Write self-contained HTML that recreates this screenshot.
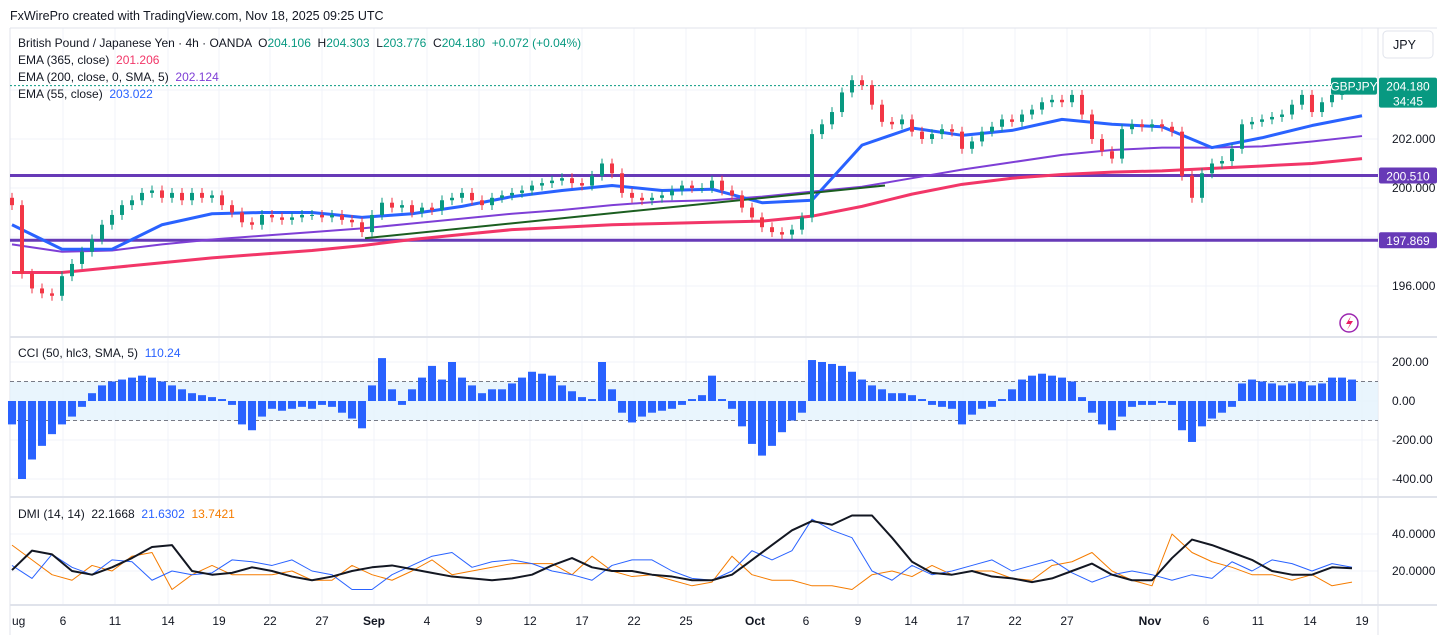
<!DOCTYPE html>
<html><head><meta charset="utf-8">
<style>
html,body{margin:0;padding:0;background:#fff;}
body{width:1437px;height:635px;overflow:hidden;font-family:"Liberation Sans",sans-serif;}
svg text{font-family:"Liberation Sans",sans-serif;white-space:pre;}
</style></head>
<body>
<svg id="chart" width="1437" height="635" viewBox="0 0 1437 635" xmlns="http://www.w3.org/2000/svg">
<rect width="1437" height="635" fill="#fff"/>
<g id="grid"></g>
<g id="main"></g>
<g id="cci"></g>
<g id="dmi"></g>
<g id="axes"></g>
<text x="10" y="20" font-size="12.5" fill="#131722">FxWirePro created with TradingView.com, Nov 18, 2025 09:25 UTC</text>
<g font-size="12">
<text x="18" y="47" fill="#131722">British Pound / Japanese Yen · 4h · OANDA  O<tspan fill="#089981">204.106</tspan>  H<tspan fill="#089981">204.303</tspan>  L<tspan fill="#089981">203.776</tspan>  C<tspan fill="#089981">204.180</tspan>  <tspan fill="#089981">+0.072 (+0.04%)</tspan></text>
<text x="18" y="64" fill="#131722">EMA (365, close)  <tspan fill="#f23668">201.206</tspan></text>
<text x="18" y="81" fill="#131722">EMA (200, close, 0, SMA, 5)  <tspan fill="#7e3fd6">202.124</tspan></text>
<text x="18" y="98" fill="#131722">EMA (55, close)  <tspan fill="#2962ff">203.022</tspan></text>
</g>
<text x="18" y="357" font-size="12" fill="#131722">CCI (50, hlc3, SMA, 5)  <tspan fill="#2962ff">110.24</tspan></text>
<text x="18" y="518" font-size="12" fill="#131722">DMI (14, 14)  22.1668  <tspan fill="#2962ff">21.6302</tspan>  <tspan fill="#f57c00">13.7421</tspan></text>
<g>
<rect x="1383" y="31" width="50" height="27" rx="4" fill="#fff" stroke="#e0e3eb"/>
<text x="1393" y="49" font-size="12.5" fill="#131722">JPY</text>
</g>
<g>
<circle cx="1349" cy="323" r="9" fill="none" stroke="#9c27b0" stroke-width="1.5"/>
<path d="M1351 316 L1346 324 L1350 324 L1347 330 L1353 321 L1349 321 Z" fill="#e91e63"/>
</g>
</svg>
<script>
// ---- data ----
const closes = [199.3,196.5,195.9,195.7,195.6,196.4,196.9,197.4,197.9,198.5,
198.9,199.3,199.5,199.8,199.9,199.6,199.8,199.5,199.8,199.6,
199.7,199.3,199.0,198.6,198.5,198.9,198.8,198.7,198.8,198.9,
198.9,198.8,198.9,198.7,198.6,198.2,198.9,199.4,199.2,199.3,
199.0,199.2,199.1,199.5,199.6,199.8,199.5,199.3,199.6,199.7,
199.8,199.9,200.1,200.2,200.3,200.4,200.2,200.1,200.5,201.0,
200.6,199.8,199.6,199.5,199.6,199.7,199.9,200.1,200.0,200.0,
200.3,199.9,199.7,199.2,198.8,198.4,198.2,198.1,198.3,198.8,
202.2,202.6,203.1,203.9,204.4,204.2,203.4,202.7,202.6,202.8,
202.3,202.0,202.2,202.4,202.3,201.6,201.9,202.3,202.5,202.8,
202.7,203.0,203.2,203.5,203.6,203.5,203.8,203.0,202.0,201.5,
201.2,202.4,202.6,202.5,202.6,202.5,202.3,200.5,199.6,200.6,
201.0,201.1,201.6,202.6,202.7,202.8,202.9,203.0,203.4,203.8,
203.1,203.5,203.8,204.1,204.18];
const ema55 = [198.5,197.5,197.5,198.5,198.95,199.0,199.0,198.8,198.95,199.25,199.65,199.9,200.1,199.9,199.95,199.4,199.5,201.75,202.45,202.15,202.35,202.8,202.6,202.5,201.65,202.05,202.55,202.95];
const ema200 = [197.7,197.4,197.45,197.7,197.9,198.05,198.2,198.35,198.55,198.75,198.95,199.1,199.3,199.45,199.5,199.65,199.85,200.05,200.4,200.75,201.05,201.35,201.55,201.65,201.65,201.7,201.9,202.12];
const ema365 = [196.55,196.55,196.75,196.95,197.15,197.3,197.45,197.65,197.9,198.1,198.3,198.4,198.5,198.55,198.6,198.65,198.85,199.25,199.75,200.15,200.4,200.55,200.65,200.7,200.8,200.9,201.0,201.2];
const levels = [200.510, 197.869];
const cciVals = [-120,-400,-300,-230,-170,-120,-80,-30,40,80,
100,110,120,130,120,100,80,60,40,30,
20,10,-20,-120,-150,-80,-40,-50,-40,-30,
-40,-20,-30,-60,-90,-140,80,220,60,-20,
60,120,180,110,200,120,80,40,60,60,
90,120,150,140,130,80,50,20,10,200,
60,-60,-110,-80,-60,-50,-40,-20,10,30,
130,10,-40,-130,-220,-280,-230,-160,-100,-60,
210,200,190,180,150,110,80,60,40,40,
30,10,-20,-30,-40,-120,-70,-40,-30,10,
60,110,130,140,130,120,100,20,-60,-120,
-150,-80,-30,-20,-20,-10,-20,-150,-210,-130,
-90,-60,-30,90,110,100,90,80,90,100,
80,90,120,120,110];
const adx = [20.5,31,29,20,18,22,27,33,34,20,18,19,22,20,17,15,17,20,22,23,21,19,17,16,15,16,18,23,27,22,20,20,18,17,15,15,18,26,34,42,47,45,50,50,38,25,19,18,20,17,16,14,16,20,24,18,15,15,27,37,34,30,26,20,18,18,22,21.5];
const diPlus = [23,16,29,22,18,26,25,15,20,18,19,26,25,23,26,20,18,10,10,18,23,28,30,22,25,26,24,20,18,15,23,26,26,20,16,15,20,31,26,31,48,42,38,20,15,23,18,20,23,26,20,23,26,19,14,18,20,18,15,18,16,25,20,26,24,20,24,22];
const diMinus = [34,26,18,15,23,20,28,30,10,18,23,18,18,18,20,15,15,23,18,15,20,26,18,20,22,24,24,24,18,28,20,17,18,15,12,14,28,18,15,15,12,12,10,18,20,17,23,18,20,20,16,15,23,25,30,20,15,12,40,30,25,22,18,18,15,18,12,14];
const priceTicks = [202, 200, 196];
const cciTicks = [200, 0, -200, -400];
const dmiTicks = [40, 20];
const xLabels = ["ug","6","11","14","19","22","27","Sep","4","9","12","17","22","25","Oct","6","9","14","17","22","27","Nov","6","11","14","19"];
const xLabelBars = [-0.3,5.1,10.3,15.6,20.7,25.8,31,36.2,41.5,46.7,51.8,57,62.2,67.4,74.3,79.4,84.6,89.9,95.1,100.3,105.5,113.8,119.4,124.6,129.8,135];
const trend = {b0: 35.3, p0: 197.95, b1: 87.3, p1: 200.1};

// ---- axes ----
const NS = "http://www.w3.org/2000/svg";
const X0 = 12, STEP = 10, RIGHT = 1378;
const xb = i => X0 + i*STEP;
const yP = p => 139 - (p-202)*24.5;
const yC = v => 401 - v*0.195;
const yD = v => 571 - (v-20)*1.85;
function el(tag, attrs, parent){const e=document.createElementNS(NS,tag);for(const k in attrs)e.setAttribute(k,attrs[k]);parent.appendChild(e);return e;}
const grid=document.getElementById('grid'), main=document.getElementById('main'), cci=document.getElementById('cci'), dmi=document.getElementById('dmi'), axes=document.getElementById('axes');

xLabelBars.forEach(b=>{const x=xb(b);if(x<10||x>RIGHT)return;
  const l=el('line',{x1:x,x2:x,y1:28,y2:605,stroke:'#f0f3fa','stroke-width':1},grid);
  
  });
[...priceTicks,198,204].forEach(p=>{const l=el('line',{x1:10,x2:RIGHT,y1:yP(p),y2:yP(p),stroke:'#f0f3fa'},grid);
  
  });
cciTicks.forEach(v=>{const l=el('line',{x1:10,x2:RIGHT,y1:yC(v),y2:yC(v),stroke:'#f0f3fa'},grid);
  
  });
dmiTicks.forEach(v=>{const l=el('line',{x1:10,x2:RIGHT,y1:yD(v),y2:yD(v),stroke:'#f0f3fa'},grid);
  
  });
[[28,'top-border'],[337,'pane-separator'],[497,'pane-separator'],[605,'time-axis-line']].forEach(([y,n])=>{const l=el('line',{x1:10,x2:1437,y1:y,y2:y,stroke:'#e0e3eb','stroke-width':y==28?1:2},grid);
  
  });
const rb=el('line',{x1:RIGHT,x2:RIGHT,y1:28,y2:635,stroke:'#e0e3eb'},grid);


const lb=el('line',{x1:10,x2:10,y1:28,y2:635,stroke:'#e0e3eb'},grid);



levels.forEach(p=>{const l=el('line',{x1:10,x2:RIGHT,y1:yP(p),y2:yP(p),stroke:'#673ab7','stroke-width':3},main);
  
  });
const dl=el('line',{x1:10,x2:RIGHT,y1:yP(closes[closes.length-1]),y2:yP(closes[closes.length-1]),stroke:'#089981','stroke-dasharray':'2 2','stroke-width':1},main);



function emaLine(arr,color,w,name){const pts=arr.map((v,i)=>xb(i*5)+','+yP(v)).join(' ');
  const p=el('polyline',{points:pts,fill:'none',stroke:color,'stroke-width':w,'stroke-linejoin':'round'},main);
  
  }
emaLine(ema365,'#f23668',3,'ema-365-line');
emaLine(ema200,'#7e3fd6',2,'ema-200-line');
emaLine(ema55,'#2962ff',3,'ema-55-line');

const tl=el('line',{x1:xb(trend.b0),y1:yP(trend.p0),x2:xb(trend.b1),y2:yP(trend.p1),stroke:'#1b5e20','stroke-width':2},main);



closes.forEach((c,i)=>{const o=i?closes[i-1]:c+0.3; const up=c>=o; const col=up?'#089981':'#f23645';
  const hi=Math.max(o,c)+0.2, lo=Math.min(o,c)-0.2, x=xb(i);
  const w=el('line',{x1:x,x2:x,y1:yP(hi),y2:yP(lo),stroke:col,'stroke-width':1},main);
  
  
  const top=yP(Math.max(o,c)), h=Math.max(1,yP(Math.min(o,c))-top);
  const r=el('rect',{x:x-2,y:top,width:4,height:h,fill:col},main);
  
  });

const band=el('rect',{x:10,y:yC(100),width:RIGHT-10,height:yC(-100)-yC(100),fill:'#e3f2fd',opacity:0.8},cci);


[100,-100].forEach(v=>{const l=el('line',{x1:10,x2:RIGHT,y1:yC(v),y2:yC(v),stroke:'#787b86','stroke-dasharray':'4 3'},cci);
  
  });
cciVals.forEach((v,i)=>{const y0=yC(0),y1=yC(v);
  const r=el('rect',{x:xb(i)-4,y:Math.min(y0,y1),width:8,height:Math.abs(y1-y0),fill:'#2962ff'},cci);
  
  });

function dmiLine(arr,color,w,name){const pts=arr.map((v,i)=>xb(i*2)+','+yD(v)).join(' ');
  const p=el('polyline',{points:pts,fill:'none',stroke:color,'stroke-width':w,'stroke-linejoin':'round'},dmi);
  
  }
dmiLine(diMinus,'#f57c00',1,'di-minus-line');
dmiLine(diPlus,'#2962ff',1,'di-plus-line');
dmiLine(adx,'#131722',2,'adx-line');

function txt(x,y,s,opts,name){const t=el('text',Object.assign({x:x,y:y,'font-size':12,fill:'#131722'},opts||{}),axes);t.textContent=s;
  
  return t;}
priceTicks.forEach(p=>txt(1392,yP(p)+4,p.toFixed(3),{},'price-tick-label'));
cciTicks.forEach(v=>txt(1392,yC(v)+4,v.toFixed(2),{},'cci-tick-label'));
dmiTicks.forEach(v=>txt(1392,yD(v)+4,v.toFixed(4),{},'dmi-tick-label'));
xLabels.forEach((s,i)=>{const x=xb(xLabelBars[i]);const bold=/[A-Za-z]{3}/.test(s);
  txt(Math.max(x,12),625,s,{'text-anchor':x<20?'start':'middle','font-weight':bold?'bold':'normal'},'time-tick-label');});

function badge(x,y,w,h,bg,lines,name){const g=el('g',{},axes);
  
  
  el('rect',{x:x,y:y,width:w,height:h,fill:bg,rx:2},g);
  lines.forEach((s,k)=>{const t=el('text',{x:x+w/2,y:y+13+k*15,'font-size':12,fill:'#fff','text-anchor':'middle'},g);t.textContent=s;});}
levels.forEach(p=>badge(1379,yP(p)-8,58,16,'#673ab7',[p.toFixed(3)],'level-price-label'));
badge(1379,yP(closes[closes.length-1])-8,58,30,'#089981',[closes[closes.length-1].toFixed(3),'34:45'],'last-price-label');
badge(1331,yP(closes[closes.length-1])-8,46,17,'#089981',['GBPJPY'],'symbol-label');
</script>
</body></html>
